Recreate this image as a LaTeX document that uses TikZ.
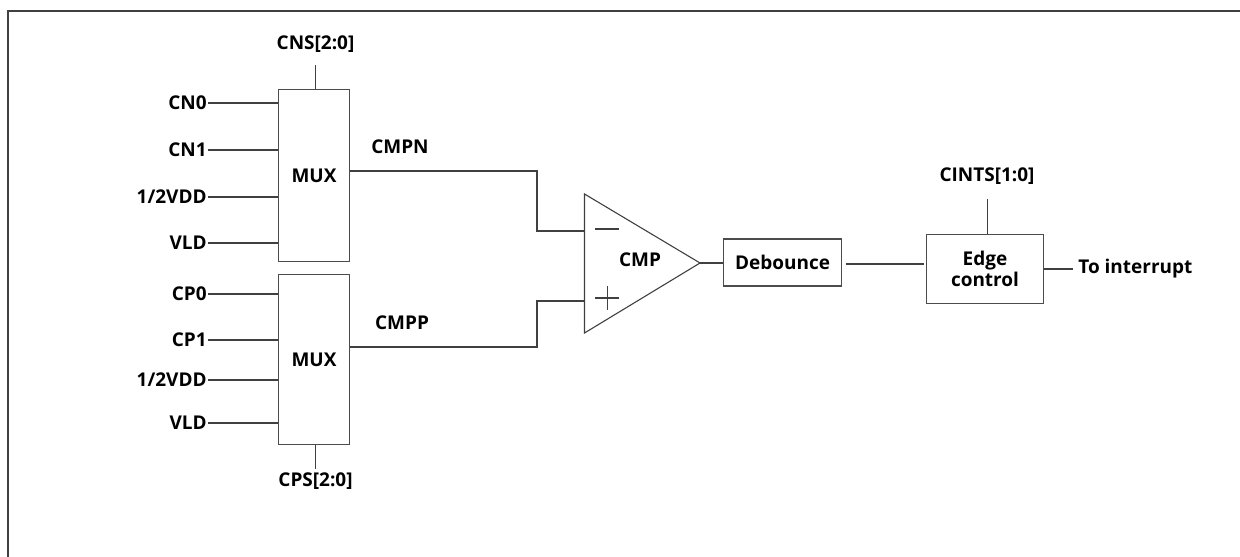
\documentclass[tikz,border=0pt]{standalone}
\usepackage{fontspec}
\setmainfont{Open Sans}
\usetikzlibrary{positioning}
\usetikzlibrary{calc}

\begin{document}
\begin{tikzpicture}[x=0.2mm,y=-0.2mm]
  \tikzset{block/.style={draw=black!70,line width=0.22mm,inner sep=0pt,align=center,minimum width=#1},
           wire/.style={draw=black!75,line width=0.22mm},
           lbl/.style={font=\bfseries\fontsize{10.8pt}{12pt}\selectfont,inner sep=0pt},
           pinlbl/.style={lbl,anchor=east}}
  \useasboundingbox (0,0) rectangle (1240,557);
  \draw[wire,line width=0.34mm] (8,557) -- (8,11) -- (1240,11);

  % input multiplexers
  \node[block=14.2mm,minimum height=34.4mm,lbl] (muxn) at (314,175.5) {MUX};
  \node[block=14.2mm,minimum height=33.9mm,lbl,below=2.4mm of muxn] (muxp) {MUX};

  \node[pinlbl] (cn0) at (207,103) {CN0};
  \node[pinlbl] (cn1) at (207,150) {CN1};
  \node[pinlbl] (vddn) at (207,197) {1/2VDD};
  \node[pinlbl] (vldn) at (207,243) {VLD};
  \node[pinlbl] (cp0) at (207,294) {CP0};
  \node[pinlbl] (cp1) at (207,340) {CP1};
  \node[pinlbl] (vddp) at (207,380) {1/2VDD};
  \node[pinlbl] (vldp) at (207,423) {VLD};
  \foreach \pin in {cn0,cn1,vddn,vldn}
    \draw[wire] (\pin.east) ++(1,0) -- (\pin.east -| muxn.west);
  \foreach \pin in {cp0,cp1,vddp,vldp}
    \draw[wire] (\pin.east) ++(1,0) -- (\pin.east -| muxp.west);

  \node[lbl] (cns) at (315.5,44) {CNS[2:0]};
  \node[lbl] (cps) at (315.5,481) {CPS[2:0]};
  \draw[wire] (muxn.north) ++(1.5,0) -- ++(0,-24);
  \draw[wire] (muxp.south) ++(1.5,0) -- ++(0,24);

  % comparator
  \coordinate (cmpa) at (584.5,194);
  \coordinate (cmpb) at (584.5,333);
  \coordinate (cmpc) at (700,263);
  \draw[wire] (cmpa) -- (cmpb) -- (cmpc) -- cycle;
  \node[lbl] (cmp) at (640,260) {CMP};
  \draw[wire] (595,229) -- (619,229);
  \draw[wire] (595,298) -- (619,298) (607.5,286) -- (607.5,310);

  \node[lbl] (cmpn) at (400,147) {CMPN};
  \node[lbl] (cmpp) at (402,323) {CMPP};
  \coordinate (inn) at (584.5,231);
  \coordinate (inp) at (584.5,301);
  \draw[wire] (muxn.east |- 0,171) -- (537,171) |- (inn);
  \draw[wire] (muxp.east |- 0,347) -- (537,347) |- (inp);

  % output chain
  \node[block=23.6mm,minimum height=9.4mm,lbl] (debounce) at (782.5,262.5) {Debounce};
  \node[block=23.4mm,minimum height=13.8mm,lbl] (edge) at (985,268.8) {Edge\\control};
  \node[lbl,anchor=west] (out) at (1078,269) {To interrupt};
  \node[lbl] (cints) at (987,176) {CINTS[1:0]};

  \draw[wire] (cmpc) -- (debounce.west |- cmpc);
  \draw[wire,shorten <=0.7mm,shorten >=0.3mm] (debounce.east |- 0,264) -- (edge.west |- 0,264);
  \draw[wire] (edge.east |- out) -- ++(28.5,0);
  \draw[wire] (edge.north) ++(2.7,0) -- ++(0,-35);
\end{tikzpicture}
\end{document}
